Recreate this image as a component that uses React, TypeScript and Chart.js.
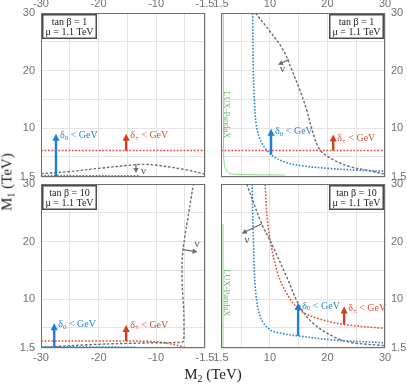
import React, { useEffect, useRef } from "react";
import { Chart, registerables } from "chart.js";

Chart.register(...registerables);

const W = 407;
const H = 386;

// ---- axes ----
const yGrid = [1.5, 5, 10, 15, 20, 25, 30];
const yTickLabels = [1.5, 10, 20, 30];
const xGridNeg = [-30, -25, -20, -15, -10, -5, -1.5];
const xTickLabelsNeg = [-30, -20, -10, -1.5];
const xGridPos = [1.5, 5, 10, 15, 20, 25, 30];
const xTickLabelsPos = [1.5, 10, 20, 30];

// ---- texts ----
const boxTan1 = ["tan β = 1", "μ = 1.1 TeV"];
const boxTan10 = ["tan β = 10", "μ = 1.1 TeV"];
const labelD0 = ["δ", "0", " < GeV"];
const labelDpm = ["δ", "±", " < GeV"];
const labelNu = "ν";
const labelLux = "LUX-PandaX";

// ---- panel A: tanβ = 1, M2 < 0 ----
const aBlueX = [-30, -22, -13];
const aBlueY = [1.75, 1.72, 1.7];
const aRedX = [-30, -1.5];
const aRedY = [6.1, 6.1];
const aGrayX = [-30, -25, -20, -15, -12.5, -10, -5, -1.5];
const aGrayY = [2.1, 2.45, 3.0, 3.5, 3.7, 3.55, 2.8, 2.0];
const aArrowBlue = [-27.4, 1.5, -27.4, 9.0];
const aArrowRed = [-15.2, 6.1, -15.2, 9.0];
const aArrowGray = [-13.5, 3.7, -13.5, 2.2];
const aLabelBlue = [-26.7, 8.7];
const aLabelRed = [-14.5, 8.7];
const aLabelNu = [-12.2, 2.5];

// ---- panel B: tanβ = 1, M2 > 0 ----
const bBlueX = [7.0, 7.1, 7.3, 7.7, 8.6, 10.2, 12.3, 15.2, 20.1, 25.1, 30];
const bBlueY = [30, 20.7, 14.9, 10.1, 7.4, 5.4, 4.2, 3.5, 3.0, 2.7, 2.5];
const bRedX = [1.5, 30];
const bRedY = [6.1, 6.1];
const bGrayX = [7.5, 9.4, 12.3, 13.8, 15.2, 16.4, 17.5, 18.7, 21.0, 23.9, 26.8, 30];
const bGrayY = [30, 27.6, 23.6, 20.1, 16.6, 13.1, 9.1, 6.2, 4.5, 3.3, 2.7, 2.0];
const bGreenX = [1.9, 1.92, 2.0, 2.2, 2.7, 3.6, 6, 12.6];
const bGreenY = [30, 10, 4.5, 3.2, 2.3, 2.0, 1.9, 1.85];
const bArrowBlue = [10.2, 5.4, 10.2, 9.9];
const bArrowRed = [21.0, 6.1, 21.0, 8.9];
const bArrowGray = [13.3, 21.9, 11.4, 21.0];
const bLabelBlue = [10.9, 9.4];
const bLabelRed = [21.7, 8.2];
const bLabelNu = [12.2, 20.3];
const bLux = [2.45, 12.3];

// ---- panel C: tanβ = 10, M2 < 0 ----
const cBlueX = [-30, -22, -13.3];
const cBlueY = [1.7, 1.68, 1.62];
const cRedX = [-30, -20, -11, -8, -6, -4.6];
const cRedY = [2.7, 2.7, 2.65, 2.3, 1.9, 1.5];
const cGrayX = [-30, -25, -18.6, -11, -6.5, -5.3, -5.15, -5.2, -5.45, -5.5, -5.3, -4.75, -4.15, -3.7, -3.45];
const cGrayY = [1.6, 1.9, 2.2, 2.4, 2.45, 2.6, 4.1, 8.1, 12.2, 16.2, 18.8, 22.5, 26, 28.9, 30.1];
const cArrowBlue = [-27.7, 1.6, -27.7, 5.8];
const cArrowRed = [-15.2, 2.7, -15.2, 5.5];
const cArrowGray = [-5.3, 18.6, -2.8, 18.2];
const cLabelBlue = [-27.0, 5.6];
const cLabelRed = [-14.5, 5.5];
const cLabelNu = [-2.9, 19.6];

// ---- panel D: tanβ = 10, M2 > 0 ----
const dBlueX = [6.9, 7.15, 7.45, 8.3, 10.0, 12.3, 14.9, 21.0, 30];
const dBlueY = [30, 19.6, 12.2, 7.0, 4.7, 4.0, 3.6, 2.9, 2.4];
const dRedX = [9.15, 9.7, 11.2, 12.9, 15.2, 18.1, 22.8, 30];
const dRedY = [30, 22.5, 15.0, 11.0, 8.1, 6.7, 5.6, 4.9];
const dGrayX = [5.96, 8.57, 10.3, 12.9, 15.2, 17.5, 21.0, 23.9, 30];
const dGrayY = [30, 23.1, 19.6, 13.9, 8.7, 5.8, 3.5, 2.5, 1.9];
const dGreenX = [1.85, 1.85];
const dGreenY = [23, 1.5];
const dArrowBlue = [14.9, 3.6, 14.9, 9.3];
const dArrowRed = [22.9, 5.6, 22.9, 8.7];
const dArrowGray = [8.6, 23.1, 5.1, 21.4];
const dLabelBlue = [15.6, 8.8];
const dLabelRed = [23.6, 8.3];
const dLabelNu = [6.0, 20.2];
const dLux = [2.45, 11.1];

// ---- styles ----
const BLUE = "#2a84d2";
const BLUE_ARROW = "#1f7fd8";
const RED = "#dd5236";
const RED_ARROW = "#d43f22";
const GRAY = "#6c6c6c";
const GREEN = "#8fd48f";
const GREEN_TEXT = "#6dbb6d";
const TICK = "#707070";
const SERIF = '"Liberation Serif", "Times New Roman", serif';
const SANS = '"Liberation Sans", Arial, sans-serif';

type Series = { x: number[]; y: number[]; color: string; w: number; dash: number[]; tension?: number };
type Arrow = { p: number[]; color: string; w: number; head: number; hw: number };
type Lbl = { p: number[]; parts: string[]; color: string };
type PanelCfg = {
  id: string;
  xMin: number;
  xMax: number;
  xGrid: number[];
  xLabels: number[];
  xPos: "top" | "bottom";
  yPos: "left" | "right";
  pad: { left: number; right: number; top: number; bottom: number };
  yWidth: number;
  xHeight: number;
  series: Series[];
  arrows: Arrow[];
  labels: Lbl[];
  nu: number[];
  lux?: number[];
  box: string[];
  boxRight: boolean;
};

const blueS = (x: number[], y: number[]): Series => ({ x, y, color: BLUE, w: 1.6, dash: [1.6, 1.6] });
const redS = (x: number[], y: number[]): Series => ({ x, y, color: RED, w: 1.5, dash: [1.8, 1.6] });
const grayS = (x: number[], y: number[], tension = 0.35): Series => ({ x, y, color: GRAY, w: 1.4, dash: [2.6, 1.8], tension });
const greenS = (x: number[], y: number[]): Series => ({ x, y, color: GREEN, w: 1, dash: [], tension: 0.3 });
const arrowMain = (p: number[], color: string): Arrow => ({ p, color, w: 2.4, head: 7, hw: 3.6 });
const arrowGray = (p: number[]): Arrow => ({ p, color: GRAY, w: 1.2, head: 5, hw: 2.6 });

const panels: PanelCfg[] = [
  {
    id: "A",
    xMin: -30, xMax: -1.5, xGrid: xGridNeg, xLabels: xTickLabelsNeg,
    xPos: "top", yPos: "left",
    pad: { left: 0, right: 202, top: 0, bottom: 209 }, yWidth: 41, xHeight: 13,
    series: [grayS(aGrayX, aGrayY), redS(aRedX, aRedY), blueS(aBlueX, aBlueY)],
    arrows: [arrowMain(aArrowBlue, BLUE_ARROW), arrowMain(aArrowRed, RED_ARROW), arrowGray(aArrowGray)],
    labels: [
      { p: aLabelBlue, parts: labelD0, color: BLUE },
      { p: aLabelRed, parts: labelDpm, color: RED },
    ],
    nu: aLabelNu, box: boxTan1, boxRight: false,
  },
  {
    id: "B",
    xMin: 1.5, xMax: 30, xGrid: xGridPos, xLabels: xTickLabelsPos,
    xPos: "top", yPos: "right",
    pad: { left: 221, right: 0, top: 0, bottom: 209 }, yWidth: 22, xHeight: 13,
    series: [greenS(bGreenX, bGreenY), grayS(bGrayX, bGrayY), redS(bRedX, bRedY), blueS(bBlueX, bBlueY)],
    arrows: [arrowMain(bArrowBlue, BLUE_ARROW), arrowMain(bArrowRed, RED_ARROW), arrowGray(bArrowGray)],
    labels: [
      { p: bLabelBlue, parts: labelD0, color: BLUE },
      { p: bLabelRed, parts: labelDpm, color: RED },
    ],
    nu: bLabelNu, lux: bLux, box: boxTan1, boxRight: true,
  },
  {
    id: "C",
    xMin: -30, xMax: -1.5, xGrid: xGridNeg, xLabels: xTickLabelsNeg,
    xPos: "bottom", yPos: "left",
    pad: { left: 0, right: 202, top: 184, bottom: 0 }, yWidth: 41, xHeight: 38,
    series: [grayS(cGrayX, cGrayY, 0.2), redS(cRedX, cRedY), blueS(cBlueX, cBlueY)],
    arrows: [arrowMain(cArrowBlue, BLUE_ARROW), arrowMain(cArrowRed, RED_ARROW), arrowGray(cArrowGray)],
    labels: [
      { p: cLabelBlue, parts: labelD0, color: BLUE },
      { p: cLabelRed, parts: labelDpm, color: RED },
    ],
    nu: cLabelNu, box: boxTan10, boxRight: false,
  },
  {
    id: "D",
    xMin: 1.5, xMax: 30, xGrid: xGridPos, xLabels: xTickLabelsPos,
    xPos: "bottom", yPos: "right",
    pad: { left: 221, right: 0, top: 184, bottom: 0 }, yWidth: 22, xHeight: 38,
    series: [greenS(dGreenX, dGreenY), grayS(dGrayX, dGrayY), redS(dRedX, dRedY), blueS(dBlueX, dBlueY)],
    arrows: [arrowMain(dArrowBlue, BLUE_ARROW), arrowMain(dArrowRed, RED_ARROW), arrowGray(dArrowGray)],
    labels: [
      { p: dLabelBlue, parts: labelD0, color: BLUE },
      { p: dLabelRed, parts: labelDpm, color: RED },
    ],
    nu: dLabelNu, lux: dLux, box: boxTan10, boxRight: true,
  },
];

function decoPlugin(cfg: PanelCfg) {
  return {
    id: "deco" + cfg.id,
    afterDraw(chart: any) {
      const { ctx, chartArea: a, scales } = chart;
      const sx = scales.x;
      const sy = scales.y;
      const X = (v: number) => sx.getPixelForValue(v);
      const Y = (v: number) => sy.getPixelForValue(v);
      ctx.save();

      // rotated LUX-PandaX text
      if (cfg.lux) {
        ctx.save();
        ctx.translate(X(cfg.lux[0]), Y(cfg.lux[1]));
        ctx.rotate(Math.PI / 2);
        ctx.font = `8.5px ${SERIF}`;
        ctx.fillStyle = GREEN_TEXT;
        ctx.textAlign = "center";
        ctx.textBaseline = "middle";
        ctx.fillText(labelLux, 0, 0);
        ctx.restore();
      }

      // arrows
      for (const ar of cfg.arrows) {
        const x0 = X(ar.p[0]), y0 = Y(ar.p[1]), x1 = X(ar.p[2]), y1 = Y(ar.p[3]);
        const ang = Math.atan2(y1 - y0, x1 - x0);
        const c = Math.cos(ang), s = Math.sin(ang);
        ctx.strokeStyle = ar.color;
        ctx.fillStyle = ar.color;
        ctx.lineWidth = ar.w;
        ctx.setLineDash([]);
        ctx.beginPath();
        ctx.moveTo(x0, y0);
        ctx.lineTo(x1 - c * ar.head * 0.7, y1 - s * ar.head * 0.7);
        ctx.stroke();
        ctx.beginPath();
        ctx.moveTo(x1, y1);
        ctx.lineTo(x1 - ar.head * c + ar.hw * s, y1 - ar.head * s - ar.hw * c);
        ctx.lineTo(x1 - ar.head * c - ar.hw * s, y1 - ar.head * s + ar.hw * c);
        ctx.closePath();
        ctx.fill();
      }

      // δ labels
      ctx.textBaseline = "middle";
      ctx.textAlign = "left";
      for (const l of cfg.labels) {
        let x = X(l.p[0]);
        const y = Y(l.p[1]);
        ctx.fillStyle = l.color;
        ctx.font = `10px ${SERIF}`;
        ctx.fillText(l.parts[0], x, y);
        x += ctx.measureText(l.parts[0]).width;
        ctx.font = `7px ${SERIF}`;
        ctx.fillText(l.parts[1], x, y + 2.5);
        x += ctx.measureText(l.parts[1]).width;
        ctx.font = `10px ${SERIF}`;
        ctx.fillText(l.parts[2], x, y);
      }

      // ν label
      ctx.fillStyle = "#555";
      ctx.font = `11px ${SERIF}`;
      ctx.textAlign = "center";
      ctx.fillText(labelNu, X(cfg.nu[0]), Y(cfg.nu[1]));

      // info box
      const bw = 55, bh = 25;
      const bx = cfg.boxRight ? a.right - 1 - bw : a.left + 1;
      const by = a.top + 1;
      ctx.fillStyle = "#fff";
      ctx.fillRect(bx, by, bw, bh);
      ctx.strokeStyle = "#4a4a4a";
      ctx.lineWidth = 1.5;
      ctx.strokeRect(bx + 0.75, by + 0.75, bw - 1.5, bh - 1.5);
      ctx.fillStyle = "#222";
      ctx.font = `10px ${SERIF}`;
      ctx.textAlign = "center";
      ctx.fillText(cfg.box[0], bx + bw / 2, by + 8);
      ctx.fillText(cfg.box[1], bx + bw / 2, by + 18.5);

      // frame
      ctx.strokeStyle = "#6e6e6e";
      ctx.lineWidth = 1;
      ctx.strokeRect(a.left + 0.5, a.top + 0.5, a.right - a.left - 1, a.bottom - a.top - 1);
      ctx.restore();
    },
  };
}

function Panel({ cfg }: { cfg: PanelCfg }) {
  const ref = useRef<HTMLCanvasElement>(null);
  useEffect(() => {
    const canvas = ref.current;
    if (!canvas) return;
    const chart = new Chart(canvas, {
      type: "scatter",
      data: {
        datasets: cfg.series.map((s) => ({
          data: s.x.map((x, i) => ({ x, y: s.y[i] })),
          showLine: true,
          borderColor: s.color,
          borderWidth: s.w,
          borderDash: s.dash,
          pointRadius: 0,
          pointHoverRadius: 0,
          tension: s.tension ?? 0.35,
          fill: false,
        })),
      },
      options: {
        animation: false,
        responsive: false,
        events: [],
        layout: { padding: cfg.pad },
        plugins: { legend: { display: false }, tooltip: { enabled: false } },
        scales: {
          x: {
            type: "linear",
            position: cfg.xPos,
            min: cfg.xMin,
            max: cfg.xMax,
            afterBuildTicks: (sc: any) => {
              sc.ticks = cfg.xGrid.map((v) => ({ value: v }));
            },
            afterFit: (sc: any) => {
              sc.height = cfg.xHeight;
            },
            ticks: {
              autoSkip: false,
              maxRotation: 0,
              minRotation: 0,
              padding: cfg.xPos === "top" ? 2 : 3,
              color: TICK,
              font: { family: SANS, size: 11 },
              callback: (v: any) => (cfg.xLabels.includes(Number(v)) ? String(v) : ""),
            },
            grid: { color: "#e4e4e4", lineWidth: 1, drawTicks: false },
            border: { display: false },
          },
          y: {
            type: "linear",
            position: cfg.yPos,
            min: 1.5,
            max: 30,
            afterBuildTicks: (sc: any) => {
              sc.ticks = yGrid.map((v) => ({ value: v }));
            },
            afterFit: (sc: any) => {
              sc.width = cfg.yWidth;
            },
            ticks: {
              autoSkip: false,
              padding: 6,
              color: TICK,
              font: { family: SANS, size: 11 },
              callback: (v: any) => (yTickLabels.includes(Number(v)) ? String(v) : ""),
            },
            grid: { color: "#e4e4e4", lineWidth: 1, drawTicks: false },
            border: { display: false },
          },
        },
      } as any,
      plugins: [decoPlugin(cfg)],
    });
    return () => chart.destroy();
  }, [cfg]);
  return (
    <canvas
      ref={ref}
      width={W}
      height={H}
      style={{ position: "absolute", left: 0, top: 0, width: W, height: H }}
    />
  );
}

export default function App() {
  return (
    <div
      style={{
        position: "absolute",
        left: 0,
        top: 0,
        width: W,
        height: H,
        background: "#fff",
        overflow: "hidden",
      }}
    >
      {panels.map((p) => (
        <Panel key={p.id} cfg={p} />
      ))}
      <div
        style={{
          position: "absolute",
          left: 9,
          top: 182,
          transform: "translate(-50%, -50%) rotate(-90deg)",
          font: `15px ${SERIF}`,
          color: "#222",
          whiteSpace: "nowrap",
          lineHeight: "15px",
        }}
      >
        M<span style={{ fontSize: 10, verticalAlign: "-3px" }}>1</span> (TeV)
      </div>
      <div
        style={{
          position: "absolute",
          left: 213,
          top: 376,
          transform: "translate(-50%, -50%)",
          font: `15px ${SERIF}`,
          color: "#222",
          whiteSpace: "nowrap",
          lineHeight: "15px",
        }}
      >
        M<span style={{ fontSize: 10, verticalAlign: "-3px" }}>2</span> (TeV)
      </div>
    </div>
  );
}
